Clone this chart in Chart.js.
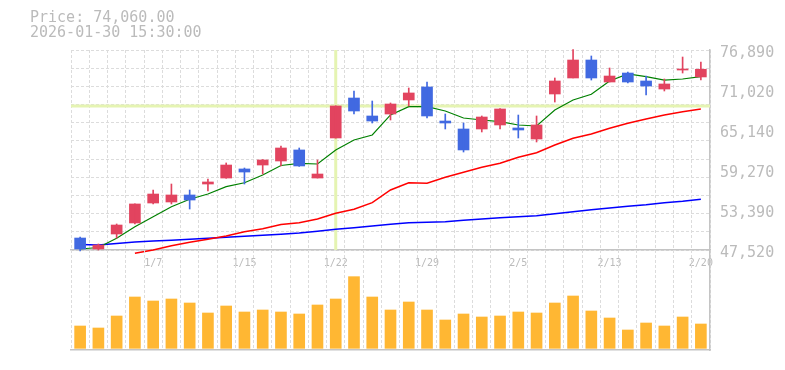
<!DOCTYPE html>
<html>
<head>
<meta charset="utf-8">
<script src="https://cdn.jsdelivr.net/npm/chart.js@4"></script>
<style>
  body { margin: 0; background: #fff; }
  #wrap { position: relative; width: 785px; height: 370px; }
  #info { position: absolute; left: 30px; top: 10px; font: 15px/15px "DejaVu Sans Mono", monospace; color: #bbb; white-space: pre; }
  #priceChart { position: absolute; left: 0; top: 0; }
  #volChart { position: absolute; left: 0; top: 250px; }
</style>
</head>
<body>
<div id="wrap">
  <canvas id="priceChart" width="785" height="280"></canvas>
  <canvas id="volChart" width="785" height="106"></canvas>
  <div id="info"></div>
</div>
<script>
// trading days shown on the chart
const dates = ['12/29','12/30','1/5','1/6','1/7','1/8','1/9','1/13','1/14','1/15','1/16','1/19','1/20','1/21','1/22',
  '1/23','1/26','1/27','1/28','1/29','1/30','2/2','2/3','2/4','2/5','2/6','2/9','2/10','2/12','2/13',
  '2/16','2/17','2/18','2/19','2/20'];
const shownDates = ['1/7','1/15','1/22','1/29','2/5','2/13','2/20'];

// OHLC
const opens  = [49280,47670,49870,51490,54420,54570,55600,57210,58090,59420,60000,60590,62210,58090,63970,
  69840,67200,67490,69550,71460,66460,65290,65290,65880,65440,63820,70430,72780,75420,72190,
  73510,72340,71160,73950,72930];
const highs  = [49430,48400,51340,54300,56330,57210,56330,57950,60300,59560,60800,62790,62500,60740,68700,
  70870,69400,69110,71310,72190,67490,66170,67200,68300,67340,67200,72780,76950,76010,74250,
  73660,73070,72630,75860,75130];
const lows   = [47370,47520,49280,51340,54280,54280,53540,56180,58050,57210,58680,59860,59800,58090,63950,
  67490,66170,66610,68670,66900,65290,61910,64850,65290,63970,63380,69250,72780,72480,72190,
  72040,70280,70870,73510,72480];
const closes = [47670,48250,51190,54280,55740,55600,54860,57510,60000,58970,60740,62500,59860,58680,68670,
  67930,66460,68960,70580,67200,66170,62210,67050,68230,65140,65880,72340,75420,72780,73070,
  72190,71600,71900,74100,74060];

// moving averages
const maShort = [47670,47890,49240,50940,52410,53880,54970,55740,56820,57400,58530,59930,60250,60150,62210,
  63670,64410,67350,68560,68560,67930,66900,66610,66360,65880,65730,68080,69550,70380,72340,
  73370,72970,72480,72630,72970];
const maMid = [null,null,null,47040,47520,48150,48650,49090,49580,50210,50650,51270,51530,52070,52910,
  53500,54470,56330,57400,57320,58200,58930,59660,60250,61130,61810,62940,63920,64560,65390,
  66130,66760,67350,67830,68230];
const maLong = [48330,48250,48470,48700,48840,48940,49090,49240,49390,49530,49680,49840,50020,50270,50560,
  50800,51040,51290,51530,51590,51680,51880,52070,52260,52410,52560,52850,53140,53440,53690,
  53940,54170,54470,54670,54970];

const volumes = [67,61,97,154,142,148,136,106,127,109,115,109,103,130,148,215,154,115,139,115,
  85,103,94,97,109,106,136,157,112,91,55,76,67,94,73];

const priceTicks = [47520,53390,59270,65140,71020,76890];
const crossIndex = 14;

const UP = '#e2445f', DOWN = '#4169e1';
const GRID = '#dcdcdc', AXIS = '#c4c4c4', TEXT = '#bbb';
const FONT = '"DejaVu Sans Mono", monospace';
Chart.defaults.font.family = FONT;

document.getElementById('info').textContent =
  'Price: ' + closes[closes.length - 1].toLocaleString('en-US', {minimumFractionDigits: 2}) +
  '\n2026-01-30 15:30:00';

const candleColors = opens.map((o, i) => closes[i] >= o ? UP : DOWN);

const crosshair = {
  id: 'crosshair',
  beforeDatasetsDraw(chart) {
    const {ctx, chartArea, scales} = chart;
    const x = scales.x.getPixelForValue(crossIndex);
    const y = scales.y.getPixelForValue(closes[crossIndex]);
    ctx.save();
    ctx.strokeStyle = '#e5f4b2';
    ctx.lineWidth = 3;
    ctx.beginPath();
    ctx.moveTo(x, chartArea.top); ctx.lineTo(x, chartArea.bottom);
    ctx.moveTo(chartArea.left, y); ctx.lineTo(chartArea.right, y);
    ctx.stroke();
    ctx.restore();
  }
};

const priceMin = priceTicks[0], priceMax = priceTicks[priceTicks.length - 1];

const priceChart = new Chart(document.getElementById('priceChart'), {
  type: 'bar',
  data: {
    labels: dates,
    datasets: [
      {
        label: 'wick',
        data: lows.map((l, i) => [l, highs[i]]),
        backgroundColor: candleColors,
        barThickness: 1,
        grouped: false,
        clip: false,
        order: 0
      },
      {
        label: 'body',
        data: opens.map((o, i) => [o, closes[i]]),
        backgroundColor: candleColors,
        barThickness: 11,
        grouped: false,
        clip: false,
        order: 0
      },
      { type: 'line', label: 'MA short', data: maShort, borderColor: '#008000', borderWidth: 1.2, pointRadius: 0, order: 1 },
      { type: 'line', label: 'MA mid', data: maMid, borderColor: '#ff0000', borderWidth: 1.5, pointRadius: 0, clip: false, order: 1 },
      { type: 'line', label: 'MA long', data: maLong, borderColor: '#0000ff', borderWidth: 1.5, pointRadius: 0, order: 1 }
    ]
  },
  options: {
    responsive: false,
    animation: false,
    layout: { padding: { left: 71, top: 50, right: 0, bottom: 0 } },
    plugins: { legend: { display: false }, tooltip: { enabled: false } },
    scales: {
      x: {
        offset: true,
        grid: { offset: true, color: GRID, drawTicks: false },
        border: { display: true, color: AXIS, width: 1.5, dash: [3, 2] },
        ticks: {
          autoSkip: false, maxRotation: 0, padding: 7, color: TEXT,
          font: { size: 10 },
          callback: (v, i) => shownDates.includes(dates[i]) ? dates[i] : ''
        },
        afterFit: s => { s.height = 30; }
      },
      yg: {
        position: 'left',
        min: priceMin, max: priceMax,
        ticks: { display: false },
        grid: { color: GRID, drawTicks: false },
        border: { display: false, dash: [3, 2] },
        afterBuildTicks: s => {
          const t = [];
          for (let k = 0; k <= 11; k++) t.push({ value: priceMin + (priceMax - priceMin) * k / 11 });
          s.ticks = t;
        },
        afterFit: s => { s.width = 0; }
      },
      y: {
        position: 'right',
        min: priceMin, max: priceMax,
        grid: { drawOnChartArea: false, drawTicks: false },
        border: { display: true, color: AXIS, width: 1.5 },
        ticks: {
          color: TEXT, padding: 10, labelOffset: 3,
          font: { size: 15 },
          callback: v => v.toLocaleString('en-US')
        },
        afterBuildTicks: s => { s.ticks = priceTicks.map(v => ({ value: v })); },
        afterFit: s => { s.width = 75; }
      }
    }
  },
  plugins: [crosshair]
});

const volChart = new Chart(document.getElementById('volChart'), {
  type: 'bar',
  data: {
    labels: dates,
    datasets: [{
      label: 'volume',
      data: volumes,
      backgroundColor: '#ffb733',
      barThickness: 11
    }]
  },
  options: {
    responsive: false,
    animation: false,
    layout: { padding: { left: 71, top: 0, right: 0, bottom: 0 } },
    plugins: { legend: { display: false }, tooltip: { enabled: false } },
    scales: {
      x: {
        offset: true,
        grid: { offset: true, color: GRID, drawTicks: false },
        border: { display: true, color: AXIS, width: 1.5, dash: [3, 2] },
        ticks: { display: false },
        afterFit: s => { s.height = 6; }
      },
      y: {
        position: 'right',
        min: -5, max: 295,
        grid: { display: false, drawTicks: false },
        border: { display: true, color: AXIS, width: 1.5 },
        ticks: { display: false },
        afterFit: s => { s.width = 75; }
      }
    }
  }
});
</script>
</body>
</html>
